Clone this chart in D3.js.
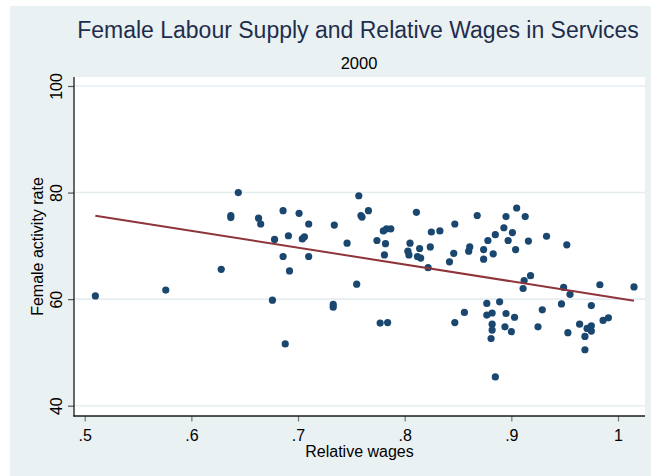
<!DOCTYPE html>
<html>
<head>
<meta charset="utf-8">
<script src="https://cdn.jsdelivr.net/npm/d3@7"></script>
<style>
  html, body { margin: 0; padding: 0; background: #ffffff; }
  svg { display: block; font-family: "Liberation Sans", Arial, sans-serif; }
</style>
</head>
<body>
<svg id="chart" width="651" height="476"></svg>
<script>
// Relative wages (x) and female activity rate (y), one entry per observation
const relWages = [
  0.510, 0.576, 0.628, 0.637, 0.637, 0.644, 0.663, 0.665, 0.686, 0.701,
  0.710, 0.678, 0.691, 0.704, 0.706, 0.686, 0.710, 0.692, 0.676, 0.734,
  0.757, 0.759, 0.760, 0.766, 0.746, 0.755, 0.733, 0.733, 0.777, 0.784,
  0.811, 0.774, 0.780, 0.783, 0.787, 0.782, 0.781, 0.805, 0.803, 0.804,
  0.814, 0.812, 0.815, 0.822, 0.824, 0.825, 0.833, 0.847, 0.842, 0.846,
  0.860, 0.861, 0.868, 0.874, 0.874, 0.878, 0.883, 0.885, 0.893, 0.895,
  0.897, 0.901, 0.905, 0.913, 0.904, 0.916, 0.933, 0.952, 0.912, 0.911,
  0.918, 0.949, 0.955, 0.983, 1.015, 0.847, 0.856, 0.877, 0.889, 0.877,
  0.882, 0.895, 0.903, 0.882, 0.882, 0.894, 0.900, 0.881, 0.885, 0.925,
  0.929, 0.947, 0.975, 0.953, 0.964, 0.969, 0.969, 0.971, 0.975, 0.975,
  0.986, 0.991, 0.688
];
const activityRate = [
  60.6, 61.7, 65.6, 75.7, 75.3, 80.0, 75.2, 74.1, 76.6, 76.1,
  74.1, 71.2, 71.9, 71.3, 71.7, 68.0, 68.0, 65.3, 59.8, 73.9,
  79.4, 75.7, 75.4, 76.6, 70.5, 62.8, 59.0, 58.5, 55.5, 55.6,
  76.3, 71.0, 72.8, 73.2, 73.2, 70.4, 68.3, 70.5, 69.0, 68.3,
  69.5, 68.0, 67.7, 65.9, 69.8, 72.6, 72.8, 74.1, 67.0, 68.6,
  69.0, 69.8, 75.7, 67.5, 69.3, 71.0, 68.5, 72.1, 73.4, 75.5,
  71.0, 72.5, 77.1, 75.5, 69.3, 70.9, 71.8, 70.2, 63.5, 62.0,
  64.4, 62.2, 60.9, 62.7, 62.3, 55.6, 57.5, 59.2, 59.5, 57.0,
  57.4, 57.3, 56.6, 55.3, 54.2, 54.8, 53.9, 52.6, 45.4, 54.8,
  58.0, 59.1, 58.8, 53.7, 55.3, 53.0, 50.5, 54.5, 55.0, 54.0,
  56.0, 56.5, 51.6
];

// Linear fit (fitted values at the ends of the wage range)
const fitWages = [0.510, 1.015];
const fitRate = [75.66, 59.71];

// Axis ticks and labels
const xTicks = [0.5, 0.6, 0.7, 0.8, 0.9, 1.0];
const xTickLabels = [".5", ".6", ".7", ".8", ".9", "1"];
const yTicks = [40, 60, 80, 100];
const yTickLabels = ["40", "60", "80", "100"];

const titleText = "Female Labour Supply and Relative Wages in Services";
const subtitleText = "2000";
const xTitle = "Relative wages";
const yTitle = "Female activity rate";

// ---- layout ----
const W = 651, H = 476;
const plot = { left: 74, top: 77, right: 645, bottom: 416 };

const svg = d3.select("#chart");

// graph region background
svg.append("rect")
  .attr("x", 10).attr("y", 6).attr("width", W - 10).attr("height", H - 6)
  .attr("fill", "#eaf1f3");

// plot region
svg.append("rect")
  .attr("x", plot.left).attr("y", plot.top)
  .attr("width", plot.right - plot.left).attr("height", plot.bottom - plot.top)
  .attr("fill", "#ffffff");

const x = d3.scaleLinear().domain([0.5, 1.0]).range([84.7, 618]);
const y = d3.scaleLinear().domain([40, 100]).range([405.7, 86]);

// horizontal grid lines
svg.append("g")
  .selectAll("line")
  .data(yTicks)
  .join("line")
  .attr("x1", plot.left).attr("x2", plot.right)
  .attr("y1", d => y(d)).attr("y2", d => y(d))
  .attr("stroke", "#e5edf0")
  .attr("stroke-width", 1.6);

// y axis
const yAxis = svg.append("g")
  .attr("transform", `translate(${plot.left},0)`)
  .call(d3.axisLeft(y)
    .tickValues(yTicks)
    .tickFormat((d, i) => yTickLabels[i])
    .tickSize(6));
yAxis.select(".domain").remove();
yAxis.selectAll(".tick line").attr("stroke", "#555").attr("stroke-width", 1.2);
yAxis.selectAll(".tick text")
  .attr("transform", "rotate(-90)")
  .attr("x", 0).attr("y", -12).attr("dy", 0)
  .attr("text-anchor", "middle")
  .attr("fill", "#000")
  .style("font-size", "16px")
  .style("font-family", "Liberation Sans, Arial, sans-serif");

// x axis
const xAxis = svg.append("g")
  .attr("transform", `translate(0,${plot.bottom})`)
  .call(d3.axisBottom(x)
    .tickValues(xTicks)
    .tickFormat((d, i) => xTickLabels[i])
    .tickSize(5.5));
xAxis.select(".domain").remove();
xAxis.selectAll(".tick line").attr("stroke", "#777").attr("stroke-width", 1.2);
xAxis.selectAll(".tick text")
  .attr("y", 25).attr("dy", 0)
  .attr("fill", "#000")
  .style("font-size", "16px")
  .style("font-family", "Liberation Sans, Arial, sans-serif");

// axis lines
svg.append("line")
  .attr("x1", plot.left).attr("x2", plot.left)
  .attr("y1", plot.top).attr("y2", plot.bottom + 0.6)
  .attr("stroke", "#1a1a1a").attr("stroke-width", 1.3);
svg.append("line")
  .attr("x1", plot.left - 0.6).attr("x2", plot.right)
  .attr("y1", plot.bottom).attr("y2", plot.bottom)
  .attr("stroke", "#1a1a1a").attr("stroke-width", 1.3);

// scatter points
const points = relWages.map((w, i) => ({ w, r: activityRate[i] }));
svg.append("g")
  .selectAll("circle")
  .data(points)
  .join("circle")
  .attr("cx", d => x(d.w))
  .attr("cy", d => y(d.r))
  .attr("r", 3.6)
  .attr("fill", "#1a476f");

// fitted line
const fitPts = fitWages.map((w, i) => [w, fitRate[i]]);
svg.append("path")
  .datum(fitPts)
  .attr("d", d3.line().x(d => x(d[0])).y(d => y(d[1])))
  .attr("fill", "none")
  .attr("stroke", "#8f343a")
  .attr("stroke-width", 2);

// titles
svg.append("text")
  .attr("x", 358).attr("y", 37.5)
  .attr("text-anchor", "middle")
  .attr("fill", "#1f2d4d")
  .style("font-size", "23px")
  .text(titleText);
svg.append("text")
  .attr("x", 359).attr("y", 68.5)
  .attr("text-anchor", "middle")
  .attr("fill", "#000")
  .style("font-size", "16.5px")
  .text(subtitleText);

// axis titles
svg.append("text")
  .attr("x", (plot.left + plot.right) / 2).attr("y", 457)
  .attr("text-anchor", "middle")
  .attr("fill", "#000")
  .style("font-size", "16px")
  .text(xTitle);
svg.append("text")
  .attr("transform", `translate(43,${(plot.top + plot.bottom) / 2}) rotate(-90)`)
  .attr("text-anchor", "middle")
  .attr("fill", "#000")
  .style("font-size", "16px")
  .text(yTitle);
</script>
</body>
</html>
